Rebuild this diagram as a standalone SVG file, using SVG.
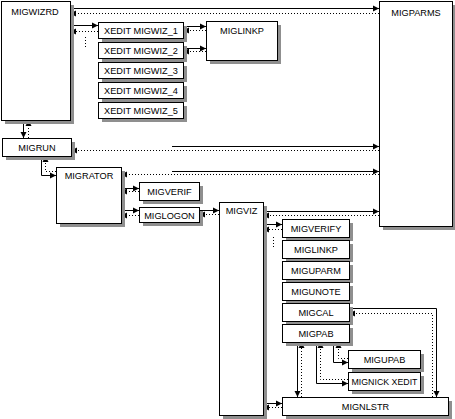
<svg xmlns="http://www.w3.org/2000/svg" width="455" height="419" viewBox="0 0 455 419">
<defs>
<style>
.sh{fill:#8f8f8f}
.bx{fill:#fff;stroke:#000;stroke-width:1}
.t{font-family:"Liberation Sans",Arial,sans-serif;font-size:9.2px;fill:#000;text-anchor:middle}
.s{fill:none;stroke:#000;stroke-width:1}
.d{fill:none;stroke:#000;stroke-width:1;stroke-dasharray:1 2}
.sa{marker-end:url(#ah)}
</style>
<marker id="ah" markerUnits="userSpaceOnUse" markerWidth="7" markerHeight="7" refX="6" refY="3.5" orient="auto">
<path d="M0,0.5 L6,3.5 L0,6.5 Z" fill="#000"/>
</marker>
</defs>
<rect width="455" height="419" fill="#fff"/>

<g id="connectors">
<path class="s sa" d="M70,8.5 H379"/>
<path class="d sa" d="M379,13.5 H70"/>
<path class="s sa" d="M70,25.5 H98"/>
<path class="d sa" d="M98,31.5 H70"/>
<path class="d" d="M85.5,37 V47"/>
<path class="s sa" d="M183,26.5 H206"/>
<path class="d sa" d="M206,30.5 H183"/>
<path class="s sa" d="M183,48.5 H206"/>
<path class="d sa" d="M206,51.5 H183"/>
<path class="s sa" d="M23.5,120 V138"/>
<path class="d sa" d="M28.5,138 V120"/>
<path class="s sa" d="M172,146.5 H379"/>
<path class="d sa" d="M379,150.5 H71"/>
<path class="s sa" d="M41.5,156 V175.5 H56"/>
<path class="d sa" d="M56,171.5 H45.5 V156"/>
<path class="s sa" d="M172,171.5 H379"/>
<path class="d sa" d="M379,174.5 H121"/>
<path class="s sa" d="M121,188.5 H139"/>
<path class="d sa" d="M139,191.5 H121"/>
<path class="s sa" d="M121,210.5 H139"/>
<path class="d sa" d="M139,215.5 H121"/>
<path class="s sa" d="M199,210.5 H219"/>
<path class="d sa" d="M219,214.5 H199"/>
<path class="s sa" d="M263,211.5 H379"/>
<path class="d sa" d="M379,215.5 H263"/>
<path class="s sa" d="M263,224.5 H282"/>
<path class="d sa" d="M282,229.5 H263"/>
<path class="d" d="M273.5,237 V247"/>
<path class="s sa" d="M263,403.5 H282"/>
<path class="d sa" d="M282,407.5 H263"/>
<path class="s sa" d="M297.5,342 V397"/>
<path class="d sa" d="M301.5,397 V342"/>
<path class="s sa" d="M333.5,342 V362.5 H348"/>
<path class="d sa" d="M348,358.5 H338.5 V342"/>
<path class="s sa" d="M316.5,342 V383.5 H348"/>
<path class="d sa" d="M348,379.5 H320.5 V342"/>
<path class="s sa" d="M349,308.5 H436.5 V397"/>
<path class="d sa" d="M432.5,397 V313.5 H349"/>
</g>

<g id="MIGWIZRD"><rect class="sh" x="5" y="5" width="69" height="119"/><rect class="bx" x="1.5" y="1.5" width="69" height="119"/><text class="t" x="35" y="15">MIGWIZRD</text></g>
<g id="MIGPARMS"><rect class="sh" x="383" y="5" width="73" height="225"/><rect class="bx" x="379.5" y="1.5" width="73" height="225"/><text class="t" x="416" y="15.5">MIGPARMS</text></g>
<g id="XEDIT_MIGWIZ_1"><rect class="sh" x="102" y="26" width="85" height="16"/><rect class="bx" x="98.5" y="22.5" width="85" height="16"/><text class="t" x="141" y="33.5">XEDIT MIGWIZ_1</text></g>
<g id="XEDIT_MIGWIZ_2"><rect class="sh" x="102" y="46" width="85" height="16"/><rect class="bx" x="98.5" y="42.5" width="85" height="16"/><text class="t" x="141" y="53.5">XEDIT MIGWIZ_2</text></g>
<g id="XEDIT_MIGWIZ_3"><rect class="sh" x="102" y="66" width="85" height="16"/><rect class="bx" x="98.5" y="62.5" width="85" height="16"/><text class="t" x="141" y="73.5">XEDIT MIGWIZ_3</text></g>
<g id="XEDIT_MIGWIZ_4"><rect class="sh" x="102" y="86" width="85" height="16"/><rect class="bx" x="98.5" y="82.5" width="85" height="16"/><text class="t" x="141" y="93.5">XEDIT MIGWIZ_4</text></g>
<g id="XEDIT_MIGWIZ_5"><rect class="sh" x="102" y="106" width="85" height="16"/><rect class="bx" x="98.5" y="102.5" width="85" height="16"/><text class="t" x="141" y="113.5">XEDIT MIGWIZ_5</text></g>
<g id="MIGLINKP_1"><rect class="sh" x="210" y="25" width="71" height="39"/><rect class="bx" x="206.5" y="21.5" width="71" height="39"/><text class="t" x="242" y="33.5">MIGLINKP</text></g>
<g id="MIGRUN"><rect class="sh" x="6" y="142" width="69" height="18"/><rect class="bx" x="2.5" y="138.5" width="69" height="18"/><text class="t" x="37" y="150.5">MIGRUN</text></g>
<g id="MIGRATOR"><rect class="sh" x="60" y="171" width="65" height="56"/><rect class="bx" x="56.5" y="167.5" width="65" height="56"/><text class="t" x="89" y="178.5">MIGRATOR</text></g>
<g id="MIGVERIF"><rect class="sh" x="143" y="186" width="60" height="18"/><rect class="bx" x="139.5" y="182.5" width="60" height="18"/><text class="t" x="169.5" y="194.5">MIGVERIF</text></g>
<g id="MIGLOGON"><rect class="sh" x="143" y="211" width="60" height="15"/><rect class="bx" x="139.5" y="207.5" width="60" height="15"/><text class="t" x="169.5" y="218.5">MIGLOGON</text></g>
<g id="MIGVIZ"><rect class="sh" x="223" y="206" width="44" height="213"/><rect class="bx" x="219.5" y="202.5" width="44" height="213"/><text class="t" x="241.5" y="213.5">MIGVIZ</text></g>
<g id="MIGVERIFY"><rect class="sh" x="286" y="223" width="67" height="18"/><rect class="bx" x="282.5" y="219.5" width="67" height="18"/><text class="t" x="316" y="231.5">MIGVERIFY</text></g>
<g id="MIGLINKP_2"><rect class="sh" x="286" y="244" width="67" height="18"/><rect class="bx" x="282.5" y="240.5" width="67" height="18"/><text class="t" x="316" y="252.5">MIGLINKP</text></g>
<g id="MIGUPARM"><rect class="sh" x="286" y="265" width="67" height="18"/><rect class="bx" x="282.5" y="261.5" width="67" height="18"/><text class="t" x="316" y="273.5">MIGUPARM</text></g>
<g id="MIGUNOTE"><rect class="sh" x="286" y="286" width="67" height="18"/><rect class="bx" x="282.5" y="282.5" width="67" height="18"/><text class="t" x="316" y="294.5">MIGUNOTE</text></g>
<g id="MIGCAL"><rect class="sh" x="286" y="307" width="67" height="18"/><rect class="bx" x="282.5" y="303.5" width="67" height="18"/><text class="t" x="316" y="315.5">MIGCAL</text></g>
<g id="MIGPAB"><rect class="sh" x="286" y="328" width="67" height="18"/><rect class="bx" x="282.5" y="324.5" width="67" height="18"/><text class="t" x="316" y="336.5">MIGPAB</text></g>
<g id="MIGUPAB"><rect class="sh" x="352" y="354" width="72" height="18"/><rect class="bx" x="348.5" y="350.5" width="72" height="18"/><text class="t" x="384.5" y="362.5">MIGUPAB</text></g>
<g id="MIGNICK_XEDIT"><rect class="sh" x="352" y="376" width="72" height="18"/><rect class="bx" x="348.5" y="372.5" width="72" height="18"/><text class="t" x="384.5" y="384.5" style="font-size:8.8px">MIGNICK XEDIT</text></g>
<g id="MIGNLSTR"><rect class="sh" x="286" y="401" width="166" height="18"/><rect class="bx" x="282.5" y="397.5" width="166" height="18"/><text class="t" x="365.5" y="409.5">MIGNLSTR</text></g>
</svg>
